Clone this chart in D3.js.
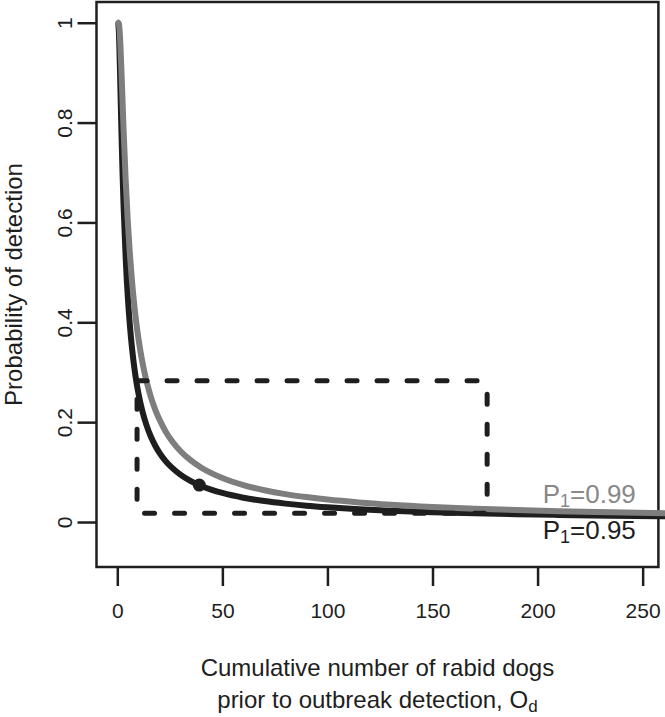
<!DOCTYPE html>
<html><head><meta charset="utf-8">
<script src="https://cdn.jsdelivr.net/npm/d3@7"></script>
<style>
body{margin:0;background:#fff}
svg{display:block}
text{font-family:"Liberation Sans",Arial,Helvetica,sans-serif}
</style>
</head><body>
<svg id="chart" width="665" height="717"></svg>
<script>
// ---- data ----
const odValues = [0.5, 0.75, 1, 1.5, 2, 2.5, 3, 4, 5, 6, 7, 8, 9, 10, 12, 14, 16, 18, 20, 23, 26, 30, 35, 40, 45, 50, 60, 70, 80, 90, 100, 115, 130, 150, 170, 190, 210, 235, 262];
const probP95 = [0.9975, 0.9816, 0.95, 0.8643, 0.7764, 0.6983, 0.6316, 0.5271, 0.4507, 0.3930, 0.3482, 0.3123, 0.2831, 0.2589, 0.2209, 0.1926, 0.1707, 0.1533, 0.1391, 0.1221, 0.1088, 0.0950, 0.0820, 0.0722, 0.0644, 0.0582, 0.0487, 0.0419, 0.0368, 0.0327, 0.0295, 0.0257, 0.0228, 0.0198, 0.0175, 0.0156, 0.0142, 0.0127, 0.0114];
const probP99 = [0.9999, 0.9978, 0.99, 0.9536, 0.9, 0.8415, 0.7846, 0.6838, 0.6019, 0.5358, 0.4821, 0.4377, 0.4005, 0.3690, 0.3187, 0.2803, 0.2501, 0.2257, 0.2057, 0.1815, 0.1623, 0.1423, 0.1233, 0.1087, 0.0973, 0.0880, 0.0739, 0.0637, 0.0559, 0.0499, 0.0450, 0.0393, 0.0348, 0.0302, 0.0267, 0.0239, 0.0217, 0.0194, 0.0174];
const seriesLabels = ["0.95", "0.99"];
const xTicks = [0, 50, 100, 150, 200, 250];
const yTicks = [0, 0.2, 0.4, 0.6, 0.8, 1];
const yTickLabels = ["0", "0.2", "0.4", "0.6", "0.8", "1"];
const markedOd = 39, markedP = 0.0739;
const boxOd = [9.4, 176];
const boxP = [0.0174, 0.283];

// ---- layout ----
const svg = d3.select("#chart");
const L = 96.5, R = 658.4, T = 2, B = 567;
const x = d3.scaleLinear().domain([-9.9, 257.5]).range([L, R]);
const y = d3.scaleLinear().domain([-0.0901, 1.0415]).range([B, T]);
const ink = "#1e1e1e", greyCol = "#7e7e7e";

// axes
const xAxis = svg.append("g").attr("transform", `translate(0,${B})`)
  .call(d3.axisBottom(x).tickValues(xTicks).tickSize(19).tickSizeOuter(0).tickFormat(d3.format("d")));
xAxis.select(".domain").remove();
xAxis.selectAll(".tick line").attr("stroke", ink).attr("stroke-width", 2.5);
xAxis.selectAll(".tick text").attr("y", 50.5).attr("dy", 0)
  .attr("font-size", 21).attr("fill", ink).attr("font-family", null);

const yAxis = svg.append("g").attr("transform", `translate(${L},0)`)
  .call(d3.axisLeft(y).tickValues(yTicks).tickSize(19).tickSizeOuter(0).tickFormat((d, i) => yTickLabels[i]));
yAxis.select(".domain").remove();
yAxis.selectAll(".tick line").attr("stroke", ink).attr("stroke-width", 2.5);
yAxis.selectAll(".tick text").attr("transform", "rotate(-90)").attr("x", 0).attr("y", -24.5).attr("dy", 0)
  .attr("text-anchor", "middle").attr("font-size", 21).attr("fill", ink).attr("font-family", null);

// box
svg.append("rect").attr("x", L).attr("y", T).attr("width", R - L).attr("height", B - T)
  .attr("fill", "none").attr("stroke", ink).attr("stroke-width", 2.5);

// curves
const line = d3.line().x(d => x(d[0])).y(d => y(d[1])).curve(d3.curveMonotoneX);
svg.append("path").datum(odValues.map((o, i) => [o, probP95[i]]))
  .attr("d", line).attr("fill", "none").attr("stroke", ink).attr("stroke-width", 6)
  .attr("stroke-linejoin", "round").attr("stroke-linecap", "round");
svg.append("path").datum(odValues.map((o, i) => [o, probP99[i]]))
  .attr("d", line).attr("fill", "none").attr("stroke", greyCol).attr("stroke-width", 6)
  .attr("stroke-linejoin", "round").attr("stroke-linecap", "round");

// dashed box segments
const segs = [
  {x1: boxOd[0], y1: boxP[1], x2: boxOd[1], y2: boxP[1], off: 0},
  {x1: boxOd[0], y1: boxP[1], x2: boxOd[0], y2: boxP[0], off: 11.5},
  {x1: boxOd[1], y1: boxP[1], x2: boxOd[1], y2: boxP[0], off: 16.5},
  {x1: boxOd[0], y1: boxP[0], x2: boxOd[1], y2: boxP[0], off: 22.5}
];
svg.selectAll("line.dash").data(segs).enter().append("line").attr("class", "dash")
  .attr("x1", d => x(d.x1)).attr("y1", d => y(d.y1)).attr("x2", d => x(d.x2)).attr("y2", d => y(d.y2))
  .attr("stroke", ink).attr("stroke-width", 5).attr("stroke-linecap", "round")
  .attr("stroke-dasharray", "10 20").attr("stroke-dashoffset", d => d.off);

// marked point
svg.append("circle").attr("cx", x(markedOd)).attr("cy", y(markedP)).attr("r", 6.5).attr("fill", ink);

// curve labels
function subLabel(px, py, val, col) {
  const t = svg.append("text").attr("x", px).attr("y", py).attr("font-size", 26).attr("fill", col);
  t.append("tspan").text("P");
  t.append("tspan").attr("font-size", 18).attr("dy", 4).text("1");
  t.append("tspan").attr("dy", -4).text("=" + val);
}
subLabel(542.7, 503, seriesLabels[1], "#888888");
subLabel(542.7, 538.5, seriesLabels[0], ink);

// axis titles
const xt = svg.append("text").attr("text-anchor", "middle").attr("font-size", 24).attr("fill", ink);
xt.append("tspan").attr("x", (L + R) / 2).attr("y", 676).text("Cumulative number of rabid dogs");
const l2 = xt.append("tspan").attr("x", (L + R) / 2).attr("y", 708);
l2.append("tspan").text("prior to outbreak detection, O");
l2.append("tspan").attr("font-size", 17).attr("dy", 4).text("d");

svg.append("text").attr("transform", `translate(22,${(T + B) / 2}) rotate(-90)`)
  .attr("text-anchor", "middle").attr("font-size", 24).attr("fill", ink).text("Probability of detection");
</script>
</body></html>
